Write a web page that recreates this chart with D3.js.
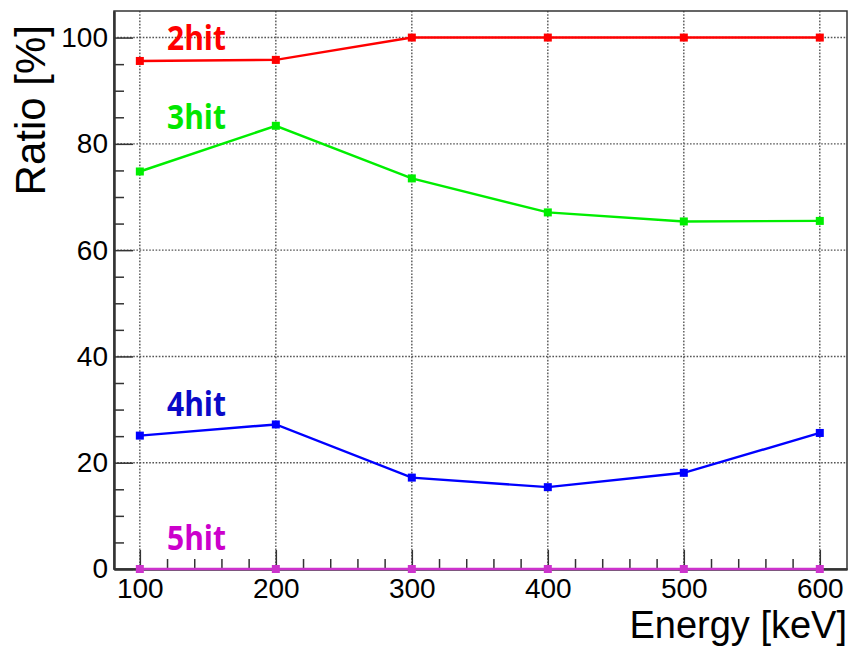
<!DOCTYPE html>
<html>
<head>
<meta charset="utf-8">
<script src="https://cdn.jsdelivr.net/npm/d3@7"></script>
<style>
html,body{margin:0;padding:0;background:#fff;}
svg{display:block;}
</style>
</head>
<body>
<svg id="chart" width="850" height="648"></svg>
<script>
const energies = [100, 200, 300, 400, 500, 600];
const hit2 = [95.6, 95.8, 100, 100, 100, 100];
const hit3 = [74.8, 83.4, 73.5, 67.1, 65.4, 65.5];
const hit4 = [25.1, 27.2, 17.2, 15.4, 18.1, 25.6];
const hit5 = [0, 0, 0, 0, 0, 0];
const seriesNames = ["2hit", "3hit", "4hit", "5hit"];
const xTicks = [100, 200, 300, 400, 500, 600];
const yTicks = [0, 20, 40, 60, 80, 100];
const xTitle = "Energy [keV]";
const yTitle = "Ratio [%]";

const series = [
  {name: seriesNames[0], values: hit2, line: "#ff0000", text: "#ff0000", labelBase: 50},
  {name: seriesNames[1], values: hit3, line: "#00ee00", text: "#00e600", labelBase: 129},
  {name: seriesNames[2], values: hit4, line: "#0000ff", text: "#0a0ac8", labelBase: 416},
  {name: seriesNames[3], values: hit5, line: "#cc33cc", text: "#cc00cc", labelBase: 550}
];

const L = 114, R = 847, T = 11, B = 569;
const x = d3.scaleLinear().domain([81, 620]).range([L, R]);
const y = d3.scaleLinear().domain([0, 105]).range([B, T]);

const svg = d3.select("#chart");

// grid
const grid = svg.append("g").attr("class", "grid");
grid.selectAll("line.vx").data(xTicks).join("line").attr("class", "vx")
  .attr("x1", d => x(d)).attr("x2", d => x(d))
  .attr("y1", T).attr("y2", B);
grid.selectAll("line.hy").data(yTicks.filter(d => d > 0)).join("line").attr("class", "hy")
  .attr("x1", L).attr("x2", R)
  .attr("y1", d => y(d)).attr("y2", d => y(d));
grid.selectAll("line").attr("stroke", "#555").attr("stroke-width", 1.4).attr("stroke-dasharray", "1.6,1.6");

// frame
svg.append("rect").attr("x", L).attr("y", T).attr("width", R - L).attr("height", B - T)
  .attr("fill", "none").attr("stroke", "#333").attr("stroke-width", 1.5);

// x axis ticks (inside)
const xMinor = d3.range(100, 620, 20);
const xAxisG = svg.append("g").attr("transform", `translate(0,${B})`);
xAxisG.call(d3.axisBottom(x).tickValues(xTicks).tickSize(-19).tickSizeOuter(0).tickPadding(9).tickFormat(d3.format("d")));
xAxisG.append("g").call(d3.axisBottom(x).tickValues(xMinor.filter(v => v % 100 !== 0)).tickSize(-10).tickSizeOuter(0).tickFormat(""));
xAxisG.selectAll(".domain").attr("stroke", "#333").attr("stroke-width", 2);
xAxisG.selectAll(".tick line").attr("stroke", "#333").attr("stroke-width", 1.5);
xAxisG.selectAll(".tick text").attr("font-family", "Liberation Sans, Arial, sans-serif").attr("font-size", 28).attr("fill", "#000");

const yMinor = d3.range(5, 105, 5).filter(v => v % 20 !== 0);
const yAxisG = svg.append("g").attr("transform", `translate(${L},0)`);
yAxisG.call(d3.axisLeft(y).tickValues(yTicks).tickSize(-19).tickSizeOuter(0).tickPadding(6).tickFormat(d3.format("d")));
yAxisG.append("g").call(d3.axisLeft(y).tickValues(yMinor).tickSize(-10).tickSizeOuter(0).tickFormat(""));
yAxisG.selectAll(".domain").attr("stroke", "#333").attr("stroke-width", 2);
yAxisG.selectAll(".tick line").attr("stroke", "#333").attr("stroke-width", 1.5);
yAxisG.selectAll(".tick text").attr("font-family", "Liberation Sans, Arial, sans-serif").attr("font-size", 28).attr("fill", "#000");

// titles
svg.append("text").attr("x", R).attr("y", 638).attr("text-anchor", "end")
  .attr("font-family", "Liberation Sans, Arial, sans-serif").attr("font-size", 38).attr("fill", "#000").text(xTitle);
svg.append("text").attr("transform", `translate(45,25) rotate(-90)`).attr("text-anchor", "end")
  .attr("font-family", "Liberation Sans, Arial, sans-serif").attr("font-size", 42).attr("fill", "#000").text(yTitle);

// series
const lineGen = d3.line().x((d, i) => x(energies[i])).y(d => y(d));
series.forEach(s => {
  const g = svg.append("g");
  g.append("path").datum(s.values).attr("d", lineGen).attr("fill", "none")
    .attr("stroke", s.line).attr("stroke-width", 2.4);
  g.selectAll("rect").data(s.values).join("rect")
    .attr("x", (d, i) => x(energies[i]) - 4).attr("y", d => y(d) - 4)
    .attr("width", 8).attr("height", 8).attr("fill", s.line);
  svg.append("text").attr("x", 167).attr("y", s.labelBase).attr("fill", s.text)
    .attr("font-family", "Open Sans, Noto Sans, sans-serif").attr("font-weight", "bold")
    .attr("font-size", 34).attr("textLength", 59).attr("lengthAdjust", "spacingAndGlyphs").text(s.name);
});
</script>
</body>
</html>
